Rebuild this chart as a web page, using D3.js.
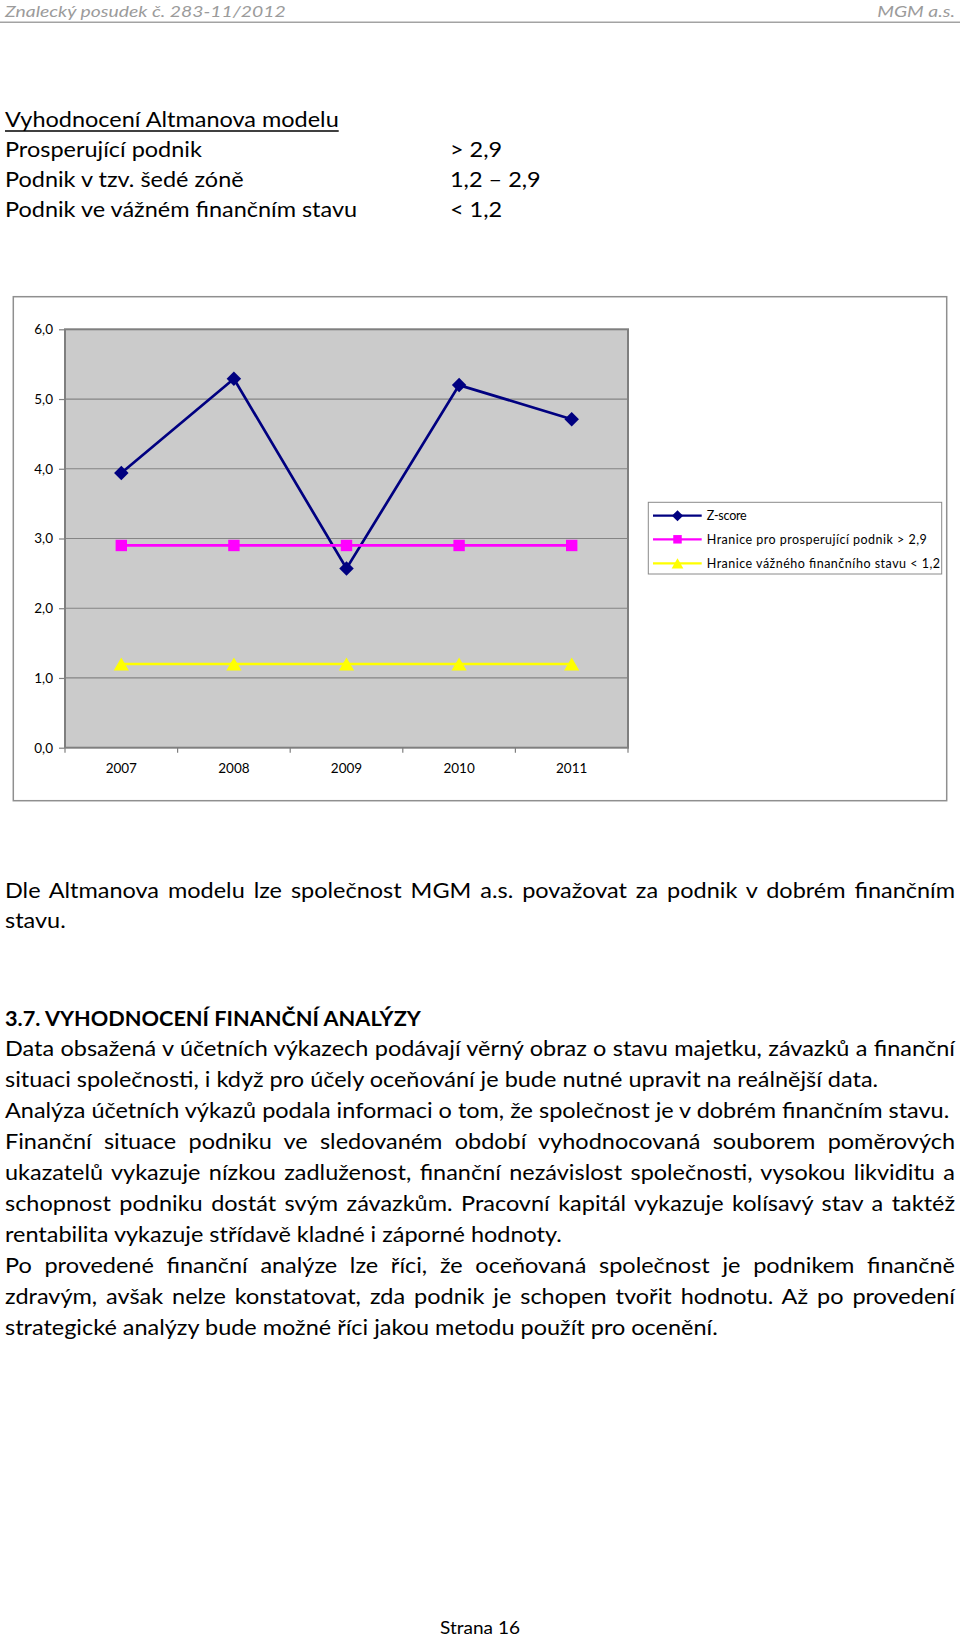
<!DOCTYPE html>
<html>
<head>
<meta charset="utf-8">
<title>Vyhodnocení Altmanova modelu</title>
<script src="https://d3js.org/d3.v7.min.js"></script>
<style>
  body { margin: 0; background: #fff; }
  svg { display: block; }
  text { font-family: Lato, "Open Sans", sans-serif; }
</style>
</head>
<body>
<div id="page"></div>
<script>
const W = 960, H = 1638;

// chart data
const years = ["2007", "2008", "2009", "2010", "2011"];
const zScore = [3.94, 5.29, 2.57, 5.20, 4.71];
const limitHigh = [2.9, 2.9, 2.9, 2.9, 2.9];
const limitLow = [1.2, 1.2, 1.2, 1.2, 1.2];
const yTicks = [0, 1, 2, 3, 4, 5, 6];
const seriesNames = ["Z-score", "Hranice pro prosperující podnik  > 2,9", "Hranice vážného finančního stavu < 1,2"];

// page texts
const headerLeft = "Znalecký posudek č. 283-11/2012";
const headerRight = "MGM a.s.";
const zoneTitle = "Vyhodnocení Altmanova modelu";
const zoneNames = ["Prosperující podnik", "Podnik v tzv. šedé zóně", "Podnik ve vážném finančním stavu"];
const zoneValues = ["> 2,9", "1,2 – 2,9", "< 1,2"];
const conclusion = [
  ["Dle Altmanova modelu lze společnost MGM a.s. považovat za podnik v dobrém finančním", true],
  ["stavu.", false]
];
const heading = "3.7. VYHODNOCENÍ FINANČNÍ ANALÝZY";
const bodyLines = [
  ["Data obsažená v účetních výkazech podávají věrný obraz o stavu majetku, závazků a finanční", true],
  ["situaci společnosti, i když pro účely oceňování je bude nutné upravit na reálnější data.", false],
  ["Analýza účetních výkazů podala informaci o tom, že společnost je v dobrém finančním stavu.", false],
  ["Finanční situace podniku ve sledovaném období vyhodnocovaná souborem poměrových", true],
  ["ukazatelů vykazuje nízkou zadluženost, finanční nezávislost společnosti, vysokou likviditu a", true],
  ["schopnost podniku dostát svým závazkům. Pracovní kapitál vykazuje kolísavý stav a taktéž", true],
  ["rentabilita vykazuje střídavě kladné i záporné hodnoty.", false],
  ["Po provedené finanční analýze lze říci, že oceňovaná společnost je podnikem finančně", true],
  ["zdravým, avšak nelze konstatovat, zda podnik je schopen tvořit hodnotu. Až po provedení", true],
  ["strategické analýzy bude možné říci jakou metodu použít pro ocenění.", false]
];
const footer = "Strana 16";

const svg = d3.select("#page").append("svg")
    .attr("width", W)
    .attr("height", H);

function addText(str, x, y, o) {
    return svg.append("text")
        .attr("transform", `translate(${x},${y}) scale(${o.k || 1},1)`)
        .attr("text-anchor", o.anchor || "start")
        .style("font-size", o.size + "px")
        .style("font-weight", o.weight || "normal")
        .style("font-style", o.italic ? "italic" : "normal")
        .attr("fill", o.fill || "#000")
        .text(str);
}

function measure(str, o) {
    const t = addText(str, 0, -200, o);
    const w = t.node().getComputedTextLength();
    t.remove();
    return w;
}

// body font: squeeze Lato horizontally so it runs like the original
const bodyFont = { size: 21.5 };
const refLines = [bodyLines[1][0], bodyLines[6][0], bodyLines[9][0], zoneTitle];
const refWidths = [875, 557, 711.5, 333];
const k = d3.sum(refWidths) / d3.sum(refLines, s => measure(s, bodyFont));
const textLeft = 5, textRight = 955;

function bodyLine(str, y, justify, extra) {
    const o = Object.assign({}, bodyFont, { k: k }, extra || {});
    const t = addText(str, textLeft, y, o);
    if (justify) {
        const natural = t.node().getComputedTextLength();
        const spaces = (str.match(/ /g) || []).length;
        t.style("word-spacing", ((textRight - textLeft) / o.k - natural) / spaces + "px");
    }
    return t;
}

// header
const hdr = { size: 16, italic: true, fill: "#9b9b9b" };
const kh = 281 / measure(headerLeft, hdr);
addText(headerLeft, 5, 17.3, Object.assign({ k: kh }, hdr));
addText(headerRight, 955, 17.3, Object.assign({ k: kh, anchor: "end" }, hdr));
svg.append("line")
    .attr("x1", 0).attr("x2", W)
    .attr("y1", 22.3).attr("y2", 22.3)
    .attr("stroke", "#a3a3a3")
    .attr("stroke-width", 1.4);

// Altman zones
const zoneTop = 126.7, zoneStep = 30.2;
const titleText = bodyLine(zoneTitle, zoneTop, false);
const titleW = titleText.node().getComputedTextLength() * k;
svg.append("line")
    .attr("x1", textLeft).attr("x2", textLeft + titleW)
    .attr("y1", zoneTop + 4.3).attr("y2", zoneTop + 4.3)
    .attr("stroke", "#000")
    .attr("stroke-width", 1.3);
zoneNames.forEach((s, i) => {
    bodyLine(s, zoneTop + zoneStep * (i + 1), false);
    addText(zoneValues[i], 450, zoneTop + zoneStep * (i + 1), Object.assign({ k: k }, bodyFont));
});

// chart
const outer = { left: 13.3, top: 296.7, right: 946.7, bottom: 800.7 };
const plot = { left: 65, right: 628, top: 329.3, bottom: 747.7 };

const x = d3.scaleBand().domain(years).range([plot.left, plot.right]);
const y = d3.scaleLinear().domain([0, 6]).range([plot.bottom, plot.top]);
const cx = d => x(d) + x.bandwidth() / 2;
const fmt = d3.formatLocale({ decimal: ",", thousands: " ", grouping: [3], currency: ["", " Kč"] }).format(".1f");

svg.append("rect")
    .attr("x", outer.left).attr("y", outer.top)
    .attr("width", outer.right - outer.left)
    .attr("height", outer.bottom - outer.top)
    .attr("fill", "#fff")
    .attr("stroke", "#8f8f8f")
    .attr("stroke-width", 1.5);

svg.append("rect")
    .attr("x", plot.left).attr("y", plot.top)
    .attr("width", plot.right - plot.left)
    .attr("height", plot.bottom - plot.top)
    .attr("fill", "#cbcbcb");

svg.append("g")
    .selectAll("line")
    .data(yTicks.filter(v => v > 0 && v < 6))
    .join("line")
    .attr("x1", plot.left).attr("x2", plot.right)
    .attr("y1", d => y(d)).attr("y2", d => y(d))
    .attr("stroke", "#858585")
    .attr("stroke-width", 1.2);

svg.append("rect")
    .attr("x", plot.left).attr("y", plot.top)
    .attr("width", plot.right - plot.left)
    .attr("height", plot.bottom - plot.top)
    .attr("fill", "none")
    .attr("stroke", "#7f7f7f")
    .attr("stroke-width", 2);

const yAxis = svg.append("g")
    .attr("transform", `translate(${plot.left - 1},0)`)
    .call(d3.axisLeft(y).tickValues(yTicks).tickFormat(fmt).tickSize(5).tickPadding(6));
yAxis.select(".domain").remove();
yAxis.selectAll("line").attr("stroke", "#7f7f7f").attr("stroke-width", 1.2);
yAxis.selectAll("text")
    .attr("fill", "#000")
    .style("font-family", "Lato, sans-serif")
    .style("font-size", "13.5px");

svg.append("g")
    .selectAll("line")
    .data(years.map(d => x(d)).concat([plot.right]))
    .join("line")
    .attr("x1", d => d).attr("x2", d => d)
    .attr("y1", plot.bottom).attr("y2", plot.bottom + 5)
    .attr("stroke", "#7f7f7f")
    .attr("stroke-width", 1.2);

svg.append("g")
    .selectAll("text")
    .data(years)
    .join("text")
    .attr("x", d => cx(d))
    .attr("y", plot.bottom + 25.5)
    .attr("text-anchor", "middle")
    .style("font-size", "13.5px")
    .text(d => d);

// series
const diamond = size => d3.symbol(d3.symbolSquare, size)();
const styles = [
    { color: "#000080", path: diamond(105), rotate: 45, dy: 0, legendPath: diamond(62) },
    { color: "#ff00ff", path: d3.symbol(d3.symbolSquare, 130)(), rotate: 0, dy: 0, legendPath: d3.symbol(d3.symbolSquare, 72)() },
    { color: "#ffff00", path: d3.symbol(d3.symbolTriangle, 100)(), rotate: 0, dy: 2.2, legendPath: d3.symbol(d3.symbolTriangle, 60)() }
];
const series = [zScore, limitHigh, limitLow];
const line = d3.line()
    .x((d, i) => cx(years[i]))
    .y(d => y(d));

series.forEach((vals, s) => {
    const st = styles[s];
    svg.append("path")
        .datum(vals)
        .attr("fill", "none")
        .attr("stroke", st.color)
        .attr("stroke-width", 2.7)
        .attr("d", line);
    svg.append("g")
        .selectAll("path")
        .data(vals)
        .join("path")
        .attr("transform", (d, i) => `translate(${cx(years[i])},${y(d) + st.dy}) rotate(${st.rotate})`)
        .attr("d", st.path)
        .attr("fill", st.color);
});

// legend
const lg = { left: 648.3, top: 502.3, right: 941.7, bottom: 574 };
svg.append("rect")
    .attr("x", lg.left).attr("y", lg.top)
    .attr("width", lg.right - lg.left)
    .attr("height", lg.bottom - lg.top)
    .attr("fill", "#fff")
    .attr("stroke", "#8a8a8a")
    .attr("stroke-width", 1);

const legendY = [515.7, 539.3, 563.3];
const legendTextW = [40, 220, 233.3];
seriesNames.forEach((name, s) => {
    const st = styles[s];
    const ly = legendY[s];
    svg.append("line")
        .attr("x1", 653).attr("x2", 701.7)
        .attr("y1", ly).attr("y2", ly)
        .attr("stroke", st.color)
        .attr("stroke-width", 2.2);
    svg.append("path")
        .attr("transform", `translate(677.5,${ly + st.dy * 0.8}) rotate(${st.rotate})`)
        .attr("d", st.legendPath)
        .attr("fill", st.color);
    svg.append("text")
        .attr("x", 706.7)
        .attr("y", ly + 4.5)
        .attr("textLength", legendTextW[s])
        .attr("lengthAdjust", "spacing")
        .style("font-size", "12.5px")
        .text(name);
});

// conclusion paragraph
conclusion.forEach((l, i) => bodyLine(l[0], 897.5 + 30.9 * i, l[1]));

// section heading and text
const headFont = { size: 21.5, weight: "bold" };
const kb = 416 / measure(heading, headFont);
addText(heading, textLeft, 1026, Object.assign({ k: kb }, headFont));
bodyLines.forEach((l, i) => bodyLine(l[0], 1056.4 + 30.92 * i, l[1]));

// footer
const foot = { size: 18 };
const kf = 80 / measure(footer, foot);
addText(footer, 480, 1633.5, Object.assign({ k: kf, anchor: "middle" }, foot));
</script>
</body>
</html>
